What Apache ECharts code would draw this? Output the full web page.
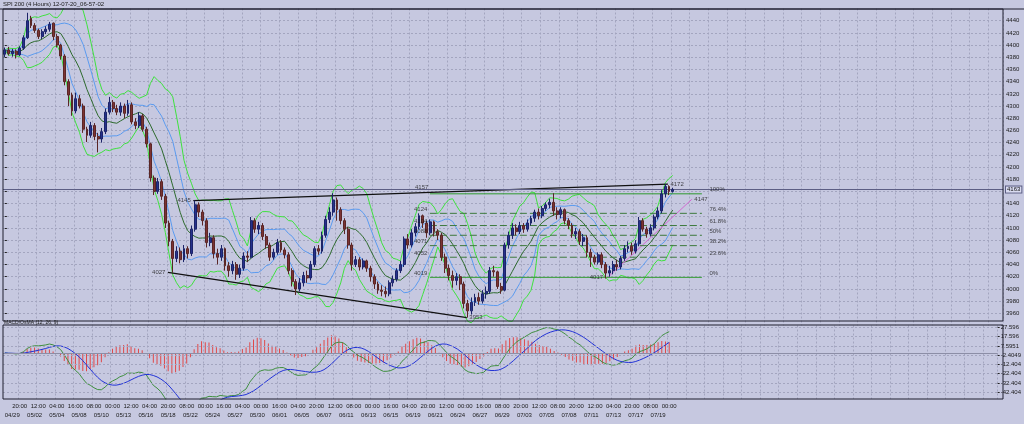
<!DOCTYPE html>
<html><head><meta charset="utf-8">
<script src="https://cdn.jsdelivr.net/npm/echarts@6/dist/echarts.min.js"></script>
<style>html,body{margin:0;padding:0;background:#c6c8e0;}#c{width:1024px;height:424px;}</style>
</head><body><div id="c"></div>
<script>
// ---- price data (4-hour bars) ----
const opens = [
4385,4392,4386,4390,4384,4395,4412,4444,4432,4424,
4414,4422,4426,4436,4414,4400,4382,4340,4318,4292,
4312,4300,4262,4252,4268,4250,4246,4258,4290,4306,
4296,4290,4300,4288,4302,4274,4268,4284,4262,4238,
4182,4160,4176,4152,4108,4078,4050,4062,4048,4066,
4058,4098,4138,4126,4112,4076,4084,4058,4052,4066,
4038,4030,4040,4024,4034,4054,4052,4112,4098,4104,
4086,4072,4052,4060,4076,4064,4056,4030,4012,4000,
4010,4022,4018,4040,4066,4062,4088,4114,4126,4146,
4130,4112,4098,4072,4040,4048,4036,4046,4034,4020,
4008,3998,3996,3992,4010,4016,4030,4040,4082,4072,
4092,4102,4120,4108,4092,4110,4094,4088,4052,4034,
4022,4014,4020,4008,3976,3964,3978,3986,3980,3992,
3996,4030,4028,4004,3998,4072,4088,4100,4094,4104,
4098,4108,4116,4126,4120,4132,4138,4142,4128,4122,
4130,4112,4104,4090,4094,4078,4084,4060,4052,4044,
4056,4040,4026,4030,4040,4036,4050,4066,4070,4062,
4074,4112,4098,4090,4100,4118,4128,4156,4168,4160];
const highs = [
4396,4397,4394,4393,4398,4416,4453,4448,4436,4427,
4426,4431,4438,4437,4418,4402,4385,4344,4322,4322,
4318,4304,4266,4274,4272,4256,4264,4296,4315,4310,
4302,4306,4304,4310,4306,4280,4290,4287,4266,4240,
4186,4182,4180,4156,4112,4082,4070,4068,4072,4070,
4104,4145,4142,4130,4116,4092,4088,4066,4072,4068,
4044,4046,4044,4040,4060,4062,4118,4116,4110,4108,
4090,4076,4066,4082,4080,4068,4060,4034,4016,4018,
4028,4030,4046,4070,4072,4094,4120,4134,4157,4150,
4134,4116,4102,4076,4054,4052,4050,4048,4038,4024,
4012,4006,4004,4014,4022,4034,4046,4086,4090,4098,
4108,4124,4122,4112,4114,4112,4098,4092,4058,4040,
4030,4026,4024,4012,3982,3986,3992,3994,3998,4004,
4036,4038,4030,4010,4076,4094,4108,4106,4110,4108,
4114,4120,4130,4132,4136,4142,4148,4157,4134,4134,
4132,4116,4108,4100,4098,4090,4088,4066,4056,4060,
4060,4044,4038,4046,4048,4054,4072,4078,4076,4080,
4118,4116,4102,4106,4122,4134,4162,4172,4170,4166];
const lows = [
4380,4383,4381,4378,4382,4392,4410,4428,4420,4410,
4410,4418,4422,4408,4396,4376,4334,4300,4284,4288,
4296,4256,4241,4248,4244,4224,4240,4254,4286,4290,
4285,4284,4280,4284,4270,4262,4264,4258,4232,4176,
4154,4156,4146,4100,4070,4027,4044,4042,4044,4050,
4054,4094,4118,4104,4068,4070,4050,4040,4046,4030,
4020,4024,4015,4018,4030,4044,4050,4092,4090,4080,
4066,4046,4048,4056,4060,4050,4024,4004,3990,3996,
4004,4010,4014,4036,4056,4058,4084,4108,4120,4112,
4106,4090,4066,4030,4036,4030,4032,4028,4012,4000,
3992,3988,3986,3988,4004,4012,4026,4036,4066,4068,
4086,4098,4100,4084,4088,4086,4080,4046,4026,4014,
4002,4006,3998,3968,3953,3958,3972,3974,3976,3984,
3992,4020,4000,3992,3996,4066,4082,4088,4090,4092,
4094,4104,4110,4114,4116,4128,4132,4120,4114,4116,
4106,4098,4084,4082,4072,4070,4052,4036,4040,4040,
4034,4017,4020,4024,4030,4032,4046,4060,4056,4058,
4070,4094,4084,4086,4096,4114,4124,4150,4154,4158];
const closes = [
4392,4386,4390,4384,4395,4412,4440,4432,4424,4414,
4422,4426,4434,4414,4400,4382,4340,4318,4292,4312,
4300,4262,4252,4268,4250,4246,4258,4290,4306,4296,
4290,4300,4288,4302,4274,4268,4284,4262,4238,4182,
4160,4176,4152,4108,4078,4050,4062,4048,4066,4058,
4098,4138,4126,4112,4076,4084,4058,4052,4066,4038,
4030,4040,4024,4034,4054,4052,4112,4098,4104,4086,
4072,4052,4060,4076,4064,4056,4030,4012,4000,4010,
4022,4018,4040,4066,4062,4088,4114,4126,4146,4130,
4112,4098,4072,4040,4048,4036,4046,4034,4020,4008,
3998,3996,3992,4010,4016,4030,4040,4082,4072,4092,
4102,4120,4108,4092,4110,4094,4088,4052,4034,4022,
4014,4020,4008,3976,3964,3978,3986,3980,3992,3996,
4030,4028,4004,3998,4072,4088,4100,4094,4104,4098,
4108,4116,4126,4120,4132,4138,4142,4128,4122,4130,
4112,4104,4090,4094,4078,4084,4060,4052,4044,4056,
4040,4026,4030,4040,4036,4050,4066,4070,4062,4074,
4112,4098,4090,4100,4118,4128,4156,4168,4160,4163];

// ---- axis labels ----
const timeLabels = ['12:00','20:00','12:00','04:00','16:00','08:00','00:00','12:00','04:00','20:00','08:00','00:00','16:00','04:00','00:00','16:00','04:00','20:00','12:00','08:00','00:00','16:00','04:00','20:00','12:00','00:00','16:00','08:00','20:00','12:00','08:00','20:00','12:00','04:00','20:00','08:00','00:00'];
const dateLabels = ['04/29','05/02','05/04','05/08','05/10','05/13','05/16','05/18','05/22','05/24','05/27','05/30','06/01','06/05','06/07','06/11','06/13','06/15','06/19','06/21','06/24','06/27','06/29','07/03','07/05','07/08','07/11','07/13','07/17','07/19'];
const macdTickValues = [27.5951,17.5951,7.5951,-2.4049,-12.4049,-22.4049,-32.4049,-42.4049];
const macdTickLabels = ['27.596','17.596','7.5951','-2.4049','-12.404','-22.404','-32.404','-42.404'];

// ---- drawn objects (bar index, price) ----
const upperTrend = [[50.5,4145],[177.7,4172]];
const lowerTrend = [[43.7,4027],[123.8,3953]];
const pinkTrend = [[161.6,4019],[184.1,4147]];
const fibRange = [113.9,186.8];
const fibLevels = [4156,4124,4104,4088,4071,4052,4019];
const fibNames = ['100%','76.4%','61.8%','50%','38.2%','23.6%','0%'];
const fibValueText = ['','4124','4104','4088','4071','4052','4019'];
const currentPrice = 4163;
const notes = [[50.5,4145,'4145','left'],[43.7,4027,'4027','left'],[111.7,4158,'4157','top'],[177.7,4172,'4172','right'],[123.8,3953,'3953','right'],[161.0,4019,'4017','left'],[184.1,4147,'4147','right']];

const SLOTS = 268;
const cats = []; for (let i = 0; i < SLOTS; i++) cats.push(i);

// indicators derived from closes (bands + MACD)
const P = 10;
const mid = [], up1 = [], dn1 = [], up2 = [], dn2 = [];
for (let i = 0; i < closes.length; i++) {
  const s = Math.max(0, i - P + 1);
  const w = closes.slice(s, i + 1);
  const m = w.reduce((a, b) => a + b, 0) / w.length;
  const sd = Math.sqrt(w.reduce((a, b) => a + (b - m) * (b - m), 0) / w.length);
  mid.push(m); up1.push(m + sd); dn1.push(m - sd); up2.push(m + 2 * sd); dn2.push(m - 2 * sd);
}
function ema(arr, p) { const k = 2 / (p + 1); const o = []; let e = arr[0]; arr.forEach((v, i) => { e = i === 0 ? v : v * k + e * (1 - k); o.push(e); }); return o; }
const e12 = ema(closes, 12), e26 = ema(closes, 26);
const macd = e12.map((v, i) => v - e26[i]);
const signal = macd.map((v, i) => { const s = Math.max(0, i - 8); const w = macd.slice(s, i + 1); return w.reduce((a, b) => a + b, 0) / w.length; });
const osma = macd.map((v, i) => v - signal[i]);

const candleData = opens.map((o, i) => [o, closes[i], lows[i], highs[i]]);

const fnt = 'Liberation Sans';
const small = { fontFamily: fnt, fontSize: 6, color: '#1a1a1a' };
const lineS = (data, color, extra) => Object.assign({ type: 'line', xAxisIndex: 0, yAxisIndex: 0, data, symbol: 'none', lineStyle: { color, width: 1 }, silent: true, z: 3 }, extra || {});
const segS = (data, color, width, type) => ({ type: 'line', xAxisIndex: 1, yAxisIndex: 0, data, symbol: 'none', lineStyle: { color, width, type: type || 'solid' }, silent: true, z: 4 });

const series = [
  lineS(up2, '#3ee23e'), lineS(dn2, '#3ee23e'),
  lineS(up1, '#5b9bf0'), lineS(dn1, '#5b9bf0'),
  lineS(mid, '#2d6a2d'),
  {
    type: 'candlestick', xAxisIndex: 0, yAxisIndex: 0, data: candleData, barWidth: 2.4, z: 5,
    itemStyle: { color: '#26318c', color0: '#7c3333', borderColor: '#1c2468', borderColor0: '#5a2626', borderWidth: 1 },
    markLine: { silent: true, symbol: 'none', data: [{ yAxis: currentPrice }],
      lineStyle: { color: '#5c5e84', width: 1, type: 'solid' },
      label: { show: true, position: 'end', formatter: String(currentPrice), fontFamily: fnt, fontSize: 6, color: '#111', backgroundColor: '#d9dbf0', borderColor: '#5c5e84', borderWidth: 1, padding: [0, 1], distance: 3 } }
  },
  segS(upperTrend, '#111111', 1.2),
  segS(lowerTrend, '#111111', 1.2),
  segS(pinkTrend, '#d16ad1', 1)
];
fibLevels.forEach((lv, k) => {
  const solid = (k === 0 || k === fibLevels.length - 1);
  series.push(segS([[fibRange[0], lv], [fibRange[1], lv]], solid ? '#2f9a2f' : '#3d7a3d', 1, solid ? 'solid' : [7, 3]));
});
const labelPts = [];
fibLevels.forEach((lv, k) => {
  labelPts.push({ value: [fibRange[1], lv], label: Object.assign({ show: true, position: 'right', formatter: fibNames[k], offset: [2, -4] }, small) });
  if (fibValueText[k]) labelPts.push({ value: [fibRange[0], lv], label: Object.assign({ show: true, position: 'left', formatter: fibValueText[k], offset: [3, -4] }, small) });
});
notes.forEach(n => labelPts.push({ value: [n[0], n[1]], label: Object.assign({ show: true, position: n[3], formatter: n[2], distance: 2 }, small) }));
series.push({ type: 'scatter', xAxisIndex: 1, yAxisIndex: 0, data: labelPts, symbolSize: 1, itemStyle: { color: 'rgba(0,0,0,0)' }, silent: true, z: 6 });

// MACD pane
series.push({
  type: 'bar', xAxisIndex: 2, yAxisIndex: 1, data: osma, barWidth: 1, itemStyle: { color: '#e04848' }, silent: true,
  markLine: { silent: true, symbol: 'none', label: { show: false },
    data: macdTickValues.map(v => ({ yAxis: v })).concat([{ yAxis: 0, lineStyle: { type: 'solid', color: '#8c8ea6', width: 1 } }]),
    lineStyle: { color: '#a3a5bf', type: [2, 2], width: 1 } }
});
series.push({ type: 'line', xAxisIndex: 2, yAxisIndex: 1, data: macd, symbol: 'none', lineStyle: { color: '#3f8f3f', width: 1 }, silent: true });
series.push({ type: 'line', xAxisIndex: 2, yAxisIndex: 1, data: signal, symbol: 'none', lineStyle: { color: '#2233d6', width: 1 }, silent: true });

const gridLine = { show: true, lineStyle: { color: '#a3a5bf', type: [2, 2], width: 1 } };
const vInterval = (i) => (i % 5) === 4;

const option = {
  animation: false,
  backgroundColor: '#c6c8e0',
  grid: [
    { left: 3, top: 8.5, width: 1000, height: 317, show: false },
    { left: 3, top: 325.5, width: 1000, height: 73.5, show: false }
  ],
  xAxis: [
    { type: 'category', gridIndex: 0, data: cats, boundaryGap: true, axisLine: { show: false }, axisTick: { show: false }, axisLabel: { show: false }, splitLine: Object.assign({ interval: vInterval }, gridLine) },
    { type: 'value', gridIndex: 0, min: -0.5, max: SLOTS - 0.5, show: false },
    { type: 'category', gridIndex: 1, position: 'bottom', data: cats, boundaryGap: true, axisLine: { show: false }, axisTick: { show: false },
      axisLabel: Object.assign({ interval: vInterval, margin: 4, formatter: (v, i) => timeLabels[(i + 1) / 5] || '' }, small),
      splitLine: Object.assign({ interval: vInterval }, gridLine) },
    { type: 'category', gridIndex: 1, position: 'bottom', data: cats, boundaryGap: true, offset: 9, axisLine: { show: false }, axisTick: { show: false },
      axisLabel: Object.assign({ interval: (i) => i >= 2 && (i - 2) % 6 === 0, margin: 4, formatter: (v, i) => dateLabels[(i - 2) / 6] || '' }, small) }
  ],
  yAxis: [
    { type: 'value', gridIndex: 0, position: 'right', min: 3940, max: 4460, interval: 20,
      axisLine: { show: false }, axisTick: { show: true, length: 2, lineStyle: { color: '#222' } },
      axisLabel: Object.assign({ margin: 3, showMinLabel: false, showMaxLabel: false, formatter: (v) => String(v) }, small),
      splitLine: Object.assign({ showMinLine: false, showMaxLine: false }, gridLine) },
    { type: 'value', gridIndex: 1, position: 'right', min: -49.9, max: 29.75,
      axisLine: { show: false },
      axisTick: { show: true, length: 2, customValues: macdTickValues, lineStyle: { color: '#222' } },
      axisLabel: Object.assign({ margin: 3, customValues: macdTickValues, formatter: (v) => { const k = macdTickValues.findIndex(t => Math.abs(t - v) < 1e-6); return k >= 0 ? macdTickLabels[k] : ''; } }, small),
      splitLine: { show: false } }
  ],
  graphic: [
    { type: 'rect', shape: { x: 3, y: 9, width: 1000, height: 312 }, style: { fill: 'rgba(0,0,0,0)', stroke: '#1e1e2e', lineWidth: 1 }, z: 100, silent: true },
    { type: 'rect', shape: { x: 3, y: 325, width: 1000, height: 74 }, style: { fill: 'rgba(0,0,0,0)', stroke: '#1e1e2e', lineWidth: 1 }, z: 100, silent: true },
    { type: 'line', shape: { x1: 0, y1: 9, x2: 1024, y2: 9 }, style: { stroke: '#1e1e2e', lineWidth: 1 }, z: 100, silent: true },
    { type: 'text', left: 3, top: 1, style: { text: 'SPI 200 (4 Hours) 12-07-20_06-57-02', font: '6px "Liberation Sans"', fill: '#1a1a1a' }, silent: true },
    { type: 'text', left: 4, top: 320.5, style: { text: 'MACD/OsMA (12, 26, 9)', font: '5px "Liberation Sans"', fill: '#1a1a1a' }, silent: true, z: 101 }
  ],
  series
};
const chart = echarts.init(document.getElementById('c'), null, { renderer: 'canvas' });
chart.setOption(option);
</script>
</body></html>
